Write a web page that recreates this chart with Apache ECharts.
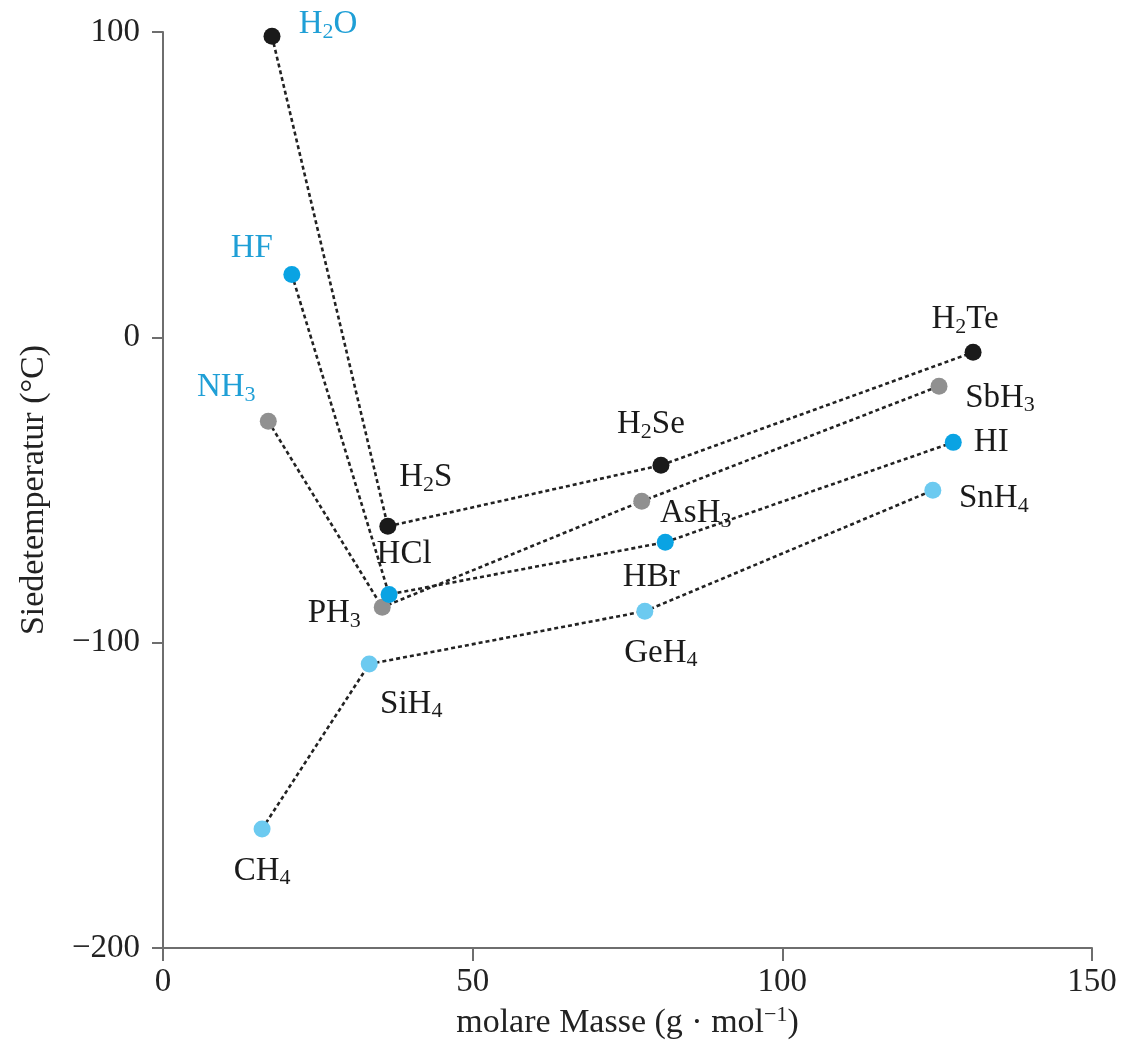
<!DOCTYPE html>
<html>
<head>
<meta charset="utf-8">
<script src="https://cdn.jsdelivr.net/npm/echarts@6/dist/echarts.min.js"></script>
<style>
  html, body { margin: 0; padding: 0; background: #fff; }
  #chart { width: 1124px; height: 1054px; }
</style>
</head>
<body>
<div id="chart"></div>
<script>
// boiling points of the hydrides, groups 14-17
var group14Names = ['CH4', 'SiH4', 'GeH4', 'SnH4'];
var group14Mass = [16.0, 33.3, 77.8, 124.3];
var group14Boil = [-161, -107, -89.7, -50.1];

var group15Names = ['NH3', 'PH3', 'AsH3', 'SbH3'];
var group15Mass = [17.0, 35.4, 77.3, 125.3];
var group15Boil = [-27.5, -88.4, -53.7, -16];

var group16Names = ['H2O', 'H2S', 'H2Se', 'H2Te'];
var group16Mass = [17.6, 36.3, 80.4, 130.8];
var group16Boil = [98.6, -61.9, -41.9, -4.9];

var group17Names = ['HF', 'HCl', 'HBr', 'HI'];
var group17Mass = [20.8, 36.5, 81.1, 127.6];
var group17Boil = [20.6, -84.2, -67.1, -34.4];

var xTicks = [0, 50, 100, 150];
var yTicks = [-200, -100, 0, 100];

// label offsets from the dot centre (px)
var labelOffset = {
  H2O: [56, -12], HF: [-40, -26], NH3: [-42, -34], CH4: [0, 42],
  H2S: [38, -49], HCl: [15, -40], PH3: [-48, 6], SiH4: [42, 40],
  H2Se: [-10, -41], AsH3: [54, 12], HBr: [-14, 35], GeH4: [16, 42],
  H2Te: [-8, -33], SbH3: [61, 12], HI: [38, 0], SnH4: [61, 8]
};
var blueLabels = ['H2O', 'HF', 'NH3'];

var serif = "'Liberation Serif', 'Times New Roman', serif";

function fmt(name) {
  return name.replace(/(\d)/g, '{s|$1}');
}

function makeSeries(names, mass, boil, color) {
  var data = names.map(function (n, i) {
    return {
      name: n,
      value: [mass[i], boil[i]],
      label: {
        offset: labelOffset[n],
        color: blueLabels.indexOf(n) >= 0 ? '#1f9fd6' : '#1a1a1a'
      }
    };
  });
  return {
    type: 'line',
    data: data,
    symbol: 'circle',
    symbolSize: 17,
    showAllSymbol: true,
    itemStyle: { color: color, borderWidth: 0 },
    lineStyle: { color: '#222', width: 2.6, type: [4, 3] },
    emphasis: { disabled: true },
    label: {
      show: true,
      position: 'inside',
      fontFamily: serif,
      fontSize: 33,
      formatter: function (p) { return fmt(p.name); },
      rich: {
        s: { fontSize: 22, fontFamily: serif, padding: [15, 0, 0, 0] }
      }
    },
    z: 3
  };
}

var chart = echarts.init(document.getElementById('chart'));
chart.setOption({
  animation: false,
  grid: { left: 163, right: 32, top: 32, bottom: 106, containLabel: false, outerBoundsMode: 'none' },
  xAxis: {
    type: 'value',
    min: xTicks[0],
    max: xTicks[xTicks.length - 1],
    interval: 50,
    name: 'molare Masse (g · mol{sup|−1})',
    nameLocation: 'middle',
    nameGap: 48,
    nameTextStyle: {
      fontFamily: serif, fontSize: 34, color: '#222',
      rich: { sup: { fontSize: 22, fontFamily: serif, color: '#222', padding: [0, 0, 16, 0] } }
    },
    axisLine: { show: true, onZero: false, lineStyle: { color: '#6e6e6e', width: 2 } },
    axisTick: { show: true, inside: false, length: 13, lineStyle: { color: '#6e6e6e', width: 2 } },
    axisLabel: { margin: 18, fontFamily: serif, fontSize: 33, color: '#222' },
    splitLine: { show: false }
  },
  yAxis: {
    type: 'value',
    min: yTicks[0],
    max: yTicks[yTicks.length - 1],
    interval: 100,
    name: 'Siedetemperatur (°C)',
    nameLocation: 'middle',
    nameGap: 112,
    nameTextStyle: { fontFamily: serif, fontSize: 34, color: '#222' },
    axisLine: { show: true, onZero: false, lineStyle: { color: '#6e6e6e', width: 2 } },
    axisTick: { show: true, inside: false, length: 11, lineStyle: { color: '#6e6e6e', width: 2 } },
    axisLabel: {
      margin: 23, fontFamily: serif, fontSize: 33, color: '#222',
      formatter: function (v) { return String(v).replace('-', '\u2212'); }
    },
    splitLine: { show: false }
  },
  series: [
    makeSeries(group14Names, group14Mass, group14Boil, '#6ccaf0'),
    makeSeries(group15Names, group15Mass, group15Boil, '#909090'),
    makeSeries(group16Names, group16Mass, group16Boil, '#1a1a1a'),
    makeSeries(group17Names, group17Mass, group17Boil, '#0aa3e3')
  ]
});
</script>
</body>
</html>
